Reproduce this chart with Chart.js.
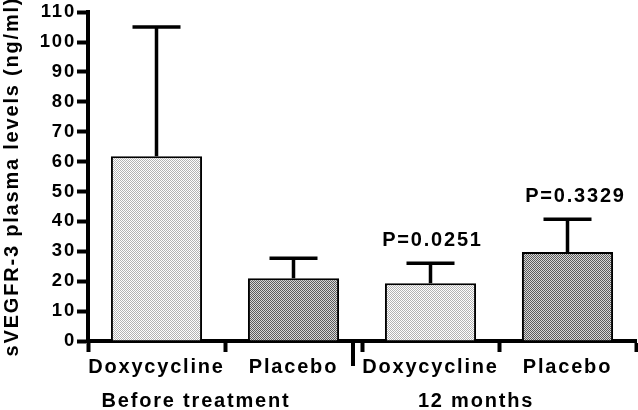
<!DOCTYPE html>
<html>
<head>
<meta charset="utf-8">
<script src="https://cdn.jsdelivr.net/npm/chart.js@4"></script>
<style>
  body { margin: 0; background: #fff; }
  #wrap { width: 638px; height: 410px; }
</style>
</head>
<body>
<div id="wrap"><canvas id="vegfChart" width="638" height="410"></canvas></div>
<script>
// Data
const categories = ['Doxycycline', 'Placebo', 'Doxycycline', 'Placebo'];
const groupLabels = ['Before treatment', '12 months'];
const meanValues = [61.8, 21, 19.3, 29.8];
const errorTops = [105, 27.7, 26, 40.7];
const pValues = ['', '', 'P=0.0251', 'P=0.3329'];

const FONT = 'Liberation Sans, Arial, sans-serif';
const SPACING = '1.8px';

// stippled fills like the original print
function makePattern(a, b) {
    const c = document.createElement('canvas');
    c.width = 2; c.height = 2;
    const g = c.getContext('2d');
    g.fillStyle = a; g.fillRect(0, 0, 2, 2);
    g.fillStyle = b; g.fillRect(0, 0, 1, 1); g.fillRect(1, 1, 1, 1);
    return g.createPattern(c, 'repeat');
}
const lightFill = makePattern('#ffffff', '#b4b4b4');
const darkFill = makePattern('#d8d8d8', '#5c5c5c');

// wide tracking on all text
const spacingPlugin = {
    id: 'spacing',
    beforeInit(chart) { chart.ctx.letterSpacing = SPACING; },
    beforeUpdate(chart) { chart.ctx.letterSpacing = SPACING; },
    beforeDraw(chart) { chart.ctx.letterSpacing = SPACING; }
};

// error bars, p-values, group separator and group labels
const extrasPlugin = {
    id: 'extras',
    afterDatasetsDraw(chart) {
        const ctx = chart.ctx;
        const x = chart.scales.x, y = chart.scales.y;
        ctx.save();
        ctx.strokeStyle = '#000';
        ctx.lineWidth = 3.5;
        ctx.lineCap = 'butt';
        errorTops.forEach((top, i) => {
            const cx = x.getPixelForValue(i);
            const y0 = y.getPixelForValue(meanValues[i]);
            const y1 = y.getPixelForValue(top);
            ctx.beginPath();
            ctx.moveTo(cx, y0);
            ctx.lineTo(cx, y1);
            ctx.moveTo(cx - 24, y1);
            ctx.lineTo(cx + 24, y1);
            ctx.stroke();
        });
        ctx.fillStyle = '#000';
        ctx.letterSpacing = SPACING;
        ctx.font = 'bold 20px ' + FONT;
        ctx.textAlign = 'center';
        ctx.textBaseline = 'alphabetic';
        pValues.forEach((p, i) => {
            if (!p) return;
            const cx = x.getPixelForValue(i) + (i === 3 ? 8 : 2);
            ctx.fillText(p, cx, y.getPixelForValue(errorTops[i]) - 17);
        });
        // separator tick between the two groups
        const sepX = (x.getPixelForValue(1) + x.getPixelForValue(2)) / 2 - 9;
        ctx.lineWidth = 4;
        ctx.beginPath();
        ctx.moveTo(sepX, x.top);
        ctx.lineTo(sepX, x.top + 25);
        ctx.stroke();
        // group labels
        const g1 = (x.getPixelForValue(0) + x.getPixelForValue(1)) / 2 - 29;
        const g2 = (x.getPixelForValue(2) + x.getPixelForValue(3)) / 2 - 23;
        ctx.fillText(groupLabels[0], g1, 407);
        ctx.fillText(groupLabels[1], g2, 407);
        ctx.restore();
    }
};

const ctx = document.getElementById('vegfChart').getContext('2d');
new Chart(ctx, {
    type: 'bar',
    data: {
        labels: categories,
        datasets: [{
            data: meanValues,
            backgroundColor: [lightFill, darkFill, lightFill, darkFill],
            borderColor: '#000',
            borderWidth: 2,
            barPercentage: 0.665,
            categoryPercentage: 1
        }]
    },
    options: {
        responsive: false,
        animation: false,
        devicePixelRatio: 1,
        layout: { padding: { top: 12, right: 2, left: 0, bottom: 0 } },
        plugins: {
            legend: { display: false },
            tooltip: { enabled: false }
        },
        scales: {
            x: {
                grid: {
                    drawOnChartArea: false,
                    tickLength: 11,
                    tickWidth: 4,
                    tickColor: '#000'
                },
                border: { color: '#000', width: 4 },
                ticks: {
                    color: '#000',
                    font: { family: FONT, size: 20, weight: 'bold' },
                    padding: 3,
                    autoSkip: false,
                    maxRotation: 0
                },
                afterFit(scale) { scale.height = 69; }
            },
            y: {
                min: 0,
                max: 110,
                grid: {
                    drawOnChartArea: false,
                    tickLength: 11,
                    tickWidth: 4,
                    tickColor: '#000'
                },
                border: { color: '#000', width: 4 },
                ticks: {
                    stepSize: 10,
                    color: '#000',
                    font: { family: FONT, size: 18.5, weight: 'bold' },
                    padding: 1
                },
                title: {
                    display: true,
                    text: 'sVEGFR-3 plasma levels (ng/ml)',
                    color: '#000',
                    font: { family: FONT, size: 20, weight: 'bold' },
                    padding: { top: 0, bottom: 0 }
                },
                afterFit(scale) { scale.width = 88; }
            }
        }
    },
    plugins: [spacingPlugin, extrasPlugin]
});
</script>
</body>
</html>
